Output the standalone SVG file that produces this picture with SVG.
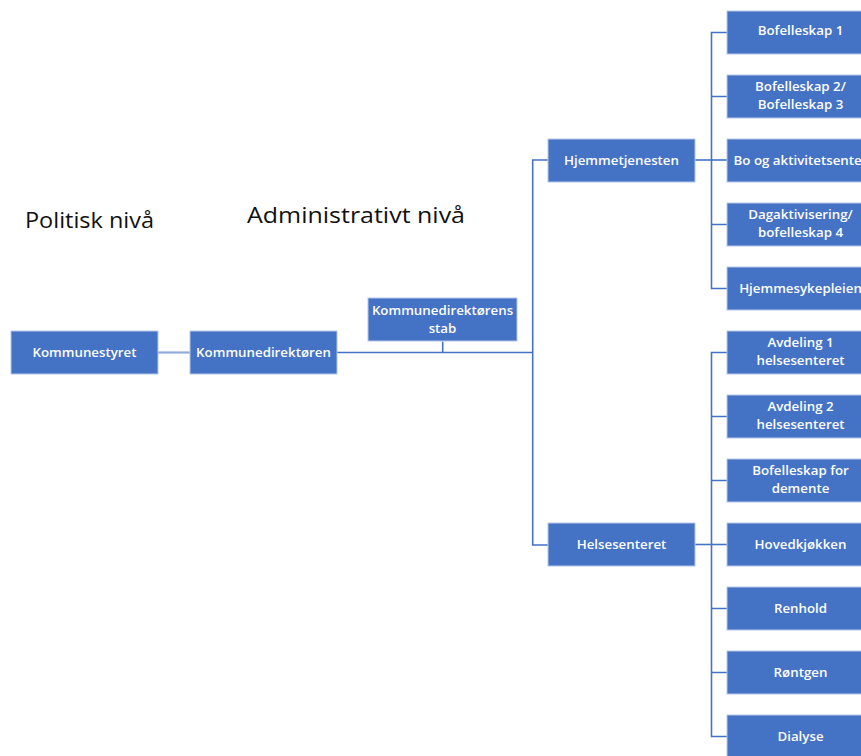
<svg xmlns="http://www.w3.org/2000/svg" width="861" height="756" viewBox="0 0 861 756">
<style>
.box{fill:#4472C4;stroke:#b4c7e7;stroke-width:1}
.t{font-family:"Open Sans","Noto Sans","Liberation Sans",sans-serif;font-size:13.3px;font-weight:600;fill:#ffffff;text-anchor:middle}
.h{font-family:"Open Sans","Liberation Sans",sans-serif;font-size:22.5px;fill:#111111}
.c{fill:none;stroke:#4472C4;stroke-width:1.6}
.cl{fill:none;stroke:#8FAADC;stroke-width:2.2}
</style>
<rect width="861" height="756" fill="#ffffff"/>
<text class="h" x="25" y="228" textLength="129" lengthAdjust="spacingAndGlyphs">Politisk nivå</text>
<text class="h" x="247" y="223" textLength="218" lengthAdjust="spacingAndGlyphs">Administrativt nivå</text>
<g id="connectors">
<path class="cl" d="M158 352.5 H190"/>
<path class="c" d="M337 352.5 H532.7"/>
<path class="c" d="M442.7 341.5 V352.5"/>
<path class="c" d="M548 160 H532.7 V545 H548"/>
<path class="c" d="M695 160 H727"/>
<path class="c" d="M727 32.5 H711.5 V288.5 H727"/>
<path class="c" d="M711.5 96.5 H727 M711.5 224.5 H727"/>
<path class="c" d="M695 544.5 H727"/>
<path class="c" d="M727 352.5 H711.5 V736.5 H727"/>
<path class="c" d="M711.5 416.5 H727 M711.5 480.5 H727 M711.5 608.5 H727 M711.5 672.5 H727"/>
</g>
<g id="kommunestyret"><rect class="box" x="11" y="331" width="147" height="43"/><text class="t" x="84.5" y="357">Kommunestyret</text></g>
<g id="kommunedirektoren"><rect class="box" x="190" y="331" width="147" height="43"/><text class="t" x="263.5" y="357">Kommunedirektøren</text></g>
<g id="stab"><rect class="box" x="368" y="298" width="149" height="43"/><text class="t" x="442.5" y="314.5">Kommunedirektørens</text><text class="t" x="442.5" y="333">stab</text></g>
<g id="hjemmetjenesten"><rect class="box" x="548" y="139" width="147" height="43"/><text class="t" x="621.5" y="164.5">Hjemmetjenesten</text></g>
<g id="helsesenteret"><rect class="box" x="548" y="523" width="147" height="43"/><text class="t" x="621.5" y="548.5">Helsesenteret</text></g>
<g id="bofelleskap1"><rect class="box" x="727" y="11" width="147" height="43"/><text class="t" x="800.5" y="35">Bofelleskap 1</text></g>
<g id="bofelleskap23"><rect class="box" x="727" y="75" width="147" height="43"/><text class="t" x="800.5" y="90.5">Bofelleskap 2/</text><text class="t" x="800.5" y="109">Bofelleskap 3</text></g>
<g id="boogaktivitetsenter"><rect class="box" x="727" y="139" width="147" height="43"/><text class="t" x="800.5" y="164.5">Bo og aktivitetsenter</text></g>
<g id="dagaktivisering"><rect class="box" x="727" y="203" width="147" height="43"/><text class="t" x="800.5" y="218.5">Dagaktivisering/</text><text class="t" x="800.5" y="237">bofelleskap 4</text></g>
<g id="hjemmesykepleien"><rect class="box" x="727" y="267" width="147" height="43"/><text class="t" x="800.5" y="292.5">Hjemmesykepleien</text></g>
<g id="avdeling1"><rect class="box" x="727" y="331" width="147" height="43"/><text class="t" x="800.5" y="346.5">Avdeling 1</text><text class="t" x="800.5" y="365">helsesenteret</text></g>
<g id="avdeling2"><rect class="box" x="727" y="395" width="147" height="43"/><text class="t" x="800.5" y="410.5">Avdeling 2</text><text class="t" x="800.5" y="429">helsesenteret</text></g>
<g id="demente"><rect class="box" x="727" y="459" width="147" height="43"/><text class="t" x="800.5" y="474.5">Bofelleskap for</text><text class="t" x="800.5" y="493">demente</text></g>
<g id="hovedkjokken"><rect class="box" x="727" y="523" width="147" height="43"/><text class="t" x="800.5" y="548.5">Hovedkjøkken</text></g>
<g id="renhold"><rect class="box" x="727" y="587" width="147" height="43"/><text class="t" x="800.5" y="612.5">Renhold</text></g>
<g id="rontgen"><rect class="box" x="727" y="651" width="147" height="43"/><text class="t" x="800.5" y="676.5">Røntgen</text></g>
<g id="dialyse"><rect class="box" x="727" y="715" width="147" height="43"/><text class="t" x="800.5" y="740.5">Dialyse</text></g>
</svg>
